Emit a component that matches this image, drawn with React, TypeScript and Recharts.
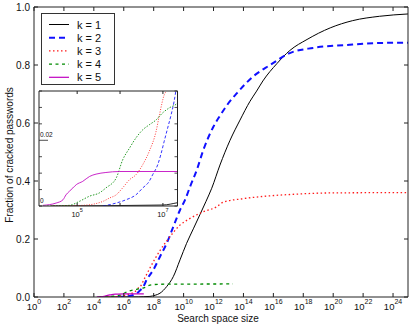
import { Line, LineChart, XAxis, YAxis } from "recharts"

// x values are log10(search space size)
const k1Exp = [4.4, 7.0, 7.34, 7.75, 8.1, 8.42, 8.87, 9.31, 9.76, 10.2, 10.65, 11.1, 11.5, 11.88, 12.43, 13.1, 13.77, 14.44, 14.88, 15.3, 16.24, 17.1, 18.25, 19.8, 21.3, 23.1, 25]
const k1Frac = [0, 0.0003, 0.001, 0.002, 0.006, 0.013, 0.036, 0.07, 0.128, 0.185, 0.235, 0.285, 0.33, 0.375, 0.455, 0.54, 0.61, 0.675, 0.71, 0.745, 0.805, 0.85, 0.888, 0.928, 0.953, 0.968, 0.976]

const k2Exp = [5.6, 5.91, 6.14, 6.37, 6.53, 6.68, 6.76, 6.88, 6.95, 7.03, 7.11, 7.19, 7.26, 7.3, 7.53, 7.97, 8.42, 8.87, 9.31, 9.76, 10.09, 10.43, 10.88, 11.32, 11.99, 12.43, 12.88, 13.6, 14.64, 15.78, 17.1, 18.65, 20.9, 23.1, 25]
const k2Frac = [0, 0.0009, 0.0019, 0.0034, 0.0055, 0.0075, 0.0095, 0.0126, 0.0156, 0.0197, 0.0237, 0.0277, 0.0318, 0.0349, 0.059, 0.093, 0.139, 0.185, 0.242, 0.3, 0.334, 0.38, 0.438, 0.507, 0.587, 0.625, 0.66, 0.705, 0.76, 0.8, 0.841, 0.859, 0.869, 0.876, 0.877]

const k3Exp = [4.4, 5.13, 5.6, 5.75, 5.91, 6.06, 6.22, 6.37, 6.53, 6.68, 6.84, 6.92, 7.03, 7.07, 7.4, 7.75, 8.42, 9.09, 9.76, 10.43, 11.32, 12.21, 12.65, 13.99, 15.55, 16.64, 19.99, 25]
const k3Frac = [0, 0.0002, 0.0014, 0.0024, 0.0034, 0.0055, 0.008, 0.0095, 0.0126, 0.0166, 0.0227, 0.0278, 0.0338, 0.0349, 0.065, 0.1, 0.16, 0.208, 0.248, 0.271, 0.294, 0.311, 0.327, 0.339, 0.348, 0.352, 0.359, 0.36]

const k4Exp = [4.3, 4.82, 5.05, 5.29, 5.52, 5.67, 5.91, 6.06, 6.22, 6.37, 6.53, 6.68, 6.84, 6.99, 7.14, 7.34, 7.75, 8.42, 13.3]
const k4Frac = [0, 0.0002, 0.0014, 0.003, 0.004, 0.0055, 0.0085, 0.014, 0.0176, 0.0207, 0.0232, 0.0247, 0.0262, 0.0283, 0.0298, 0.0313, 0.041, 0.044, 0.045]

const k5Exp = [4.2, 4.51, 4.67, 4.74, 4.82, 4.9, 4.98, 5.13, 5.29, 5.44, 5.67, 5.98, 7.34]
const k5Frac = [0.0002, 0.0009, 0.0019, 0.0034, 0.0045, 0.0055, 0.0065, 0.0075, 0.009, 0.0097, 0.0102, 0.0105, 0.0105]

const mainXTicks = [0, 2, 4, 6, 8, 10, 12, 14, 16, 18, 20, 22, 24]
const mainYTicks = [0, 0.2, 0.4, 0.6, 0.8, 1]
const insetXTicks = [5, 6, 7]
const insetXLabels = [5, 7]
const insetYTicks = [0, 0.005, 0.01, 0.015, 0.02, 0.025, 0.03, 0.035]
const insetYLabels = [0, 0.02]

const zip = (xs: number[], ys: number[]) => xs.map((x, i) => ({ x, y: ys[i] }))

const series = [
  { name: "k = 1", data: zip(k1Exp, k1Frac), color: "#000000", width: 1, dash: undefined, insetDash: undefined },
  { name: "k = 2", data: zip(k2Exp, k2Frac), color: "#1010ff", width: 2, dash: "6 4", insetDash: "3 2" },
  { name: "k = 3", data: zip(k3Exp, k3Frac), color: "#ff1a1a", width: 1.3, dash: "1.5 2.5", insetDash: "1 1.5" },
  { name: "k = 4", data: zip(k4Exp, k4Frac), color: "#008a00", width: 1.3, dash: "3 3.5", insetDash: "1.5 1.5" },
  { name: "k = 5", data: zip(k5Exp, k5Frac), color: "#c000c0", width: 1.2, dash: undefined, insetDash: undefined },
]

const AX = "#222"
const FONT = '"Liberation Sans", Arial, Helvetica, sans-serif'

// main plot box
const L = 34
const R = 408
const T = 7
const B = 297
// inset plot box
const IL = 39
const IR = 177.5
const IT = 91
const IB = 206

const BottomTick = ({ x, payload }: any) => (
  <g>
    <line x1={x} x2={x} y1={B} y2={B - 4} stroke={AX} />
    <text x={x} y={B + 13} textAnchor="middle" fontSize={9.5} fill="#111" fontFamily={FONT}>
      10<tspan dy={-6} fontSize={7}>{payload.value}</tspan>
    </text>
  </g>
)
const TopTick = ({ x }: any) => <line x1={x} x2={x} y1={T} y2={T + 4} stroke={AX} />
const LeftTick = ({ y, payload }: any) => (
  <g>
    <line x1={L} x2={L + 4} y1={y} y2={y} stroke={AX} />
    <text x={L - 4} y={y + 3.5} textAnchor="end" fontSize={10} fill="#111" fontFamily={FONT}>
      {payload.value.toFixed(1)}
    </text>
  </g>
)
const RightTick = ({ y }: any) => <line x1={R} x2={R - 4} y1={y} y2={y} stroke={AX} />

const InsetBottomTick = ({ x, payload }: any) => (
  <g>
    <line x1={x} x2={x} y1={IB} y2={IB - 3} stroke={AX} />
    {insetXLabels.includes(payload.value) && (
      <text x={x} y={IB + 11} textAnchor="middle" fontSize={7.5} fill="#111" fontFamily={FONT}>
        10<tspan dy={-5} fontSize={5.5}>{payload.value}</tspan>
      </text>
    )}
  </g>
)
const InsetTopTick = ({ x }: any) => <line x1={x} x2={x} y1={IT} y2={IT + 3} stroke={AX} />
const InsetLeftTick = ({ y, payload }: any) => {
  const lab = insetYLabels.includes(payload.value)
  return (
    <g>
      <line x1={IL} x2={IL + (payload.value === 0.02 ? 9 : 3)} y1={y} y2={y} stroke={AX} strokeWidth={0.8} />
      {lab && (
        <text x={IL + 1} y={y - 3} fontSize={6.5} fill="#111" fontFamily={FONT}>
          {payload.value === 0 ? "0" : "0.02"}
        </text>
      )}
    </g>
  )
}
const InsetRightTick = ({ y }: any) => <line x1={IR} x2={IR - 3} y1={y} y2={y} stroke={AX} strokeWidth={0.8} />

const LegendBox = () => (
  <div
    style={{
      position: "absolute",
      left: 41,
      top: 13,
      width: 72,
      height: 70,
      border: "1px solid #333",
      background: "#fff",
    }}>
    <svg width={72} height={70}>
      {series.map((s, i) => {
        const cy = 10.5 + i * 13.2
        return (
          <g key={s.name}>
            <line x1={7} x2={27} y1={cy} y2={cy} stroke={s.color} strokeWidth={s.width} strokeDasharray={s.dash} />
            <text x={35} y={cy + 4} fontSize={11} fill="#111" fontFamily={FONT}>
              {s.name}
            </text>
          </g>
        )
      })}
    </svg>
  </div>
)

const App = () => {
  return (
    <div style={{ position: "absolute", left: 0, top: 0, width: 415, height: 326, background: "#fff" }}>
      <div style={{ position: "absolute", left: 0, top: 0 }}>
        <LineChart width={415} height={326} margin={{ top: T - 1, right: 415 - R - 1, bottom: 326 - B - 1, left: 0 }}>
          <XAxis xAxisId={0} type="number" dataKey="x" domain={[0, 25]} ticks={mainXTicks} allowDataOverflow
            orientation="bottom" height={1} tickSize={0} tickMargin={0} tickLine={false} axisLine={{ stroke: AX }} tick={<BottomTick />} interval={0} />
          <XAxis xAxisId="top" type="number" dataKey="x" domain={[0, 25]} ticks={mainXTicks} allowDataOverflow
            orientation="top" height={1} tickSize={0} tickMargin={0} tickLine={false} axisLine={{ stroke: AX }} tick={<TopTick />} interval={0} />
          <YAxis yAxisId={0} type="number" domain={[0, 1]} ticks={mainYTicks} allowDataOverflow
            width={L} tickSize={0} tickMargin={0} tickLine={false} axisLine={{ stroke: AX }} tick={<LeftTick />} interval={0} />
          <YAxis yAxisId="right" type="number" domain={[0, 1]} ticks={mainYTicks} allowDataOverflow orientation="right"
            width={1} tickSize={0} tickMargin={0} tickLine={false} axisLine={{ stroke: AX }} tick={<RightTick />} interval={0} />
          {series.map((s) => (
            <Line key={s.name} data={s.data} dataKey="y" type="monotone" stroke={s.color} strokeWidth={s.width}
              strokeDasharray={s.dash} dot={false} isAnimationActive={false} />
          ))}
        </LineChart>
        <svg width={415} height={326} style={{ position: "absolute", left: 0, top: 0, pointerEvents: "none" }}>
          <text x={218} y={322} textAnchor="middle" fontSize={10} fill="#111" fontFamily={FONT}>
            Search space size
          </text>
          <text x={13} y={155} transform="rotate(-90 13 155)" textAnchor="middle" fontSize={10} fill="#111" fontFamily={FONT}>
            Fraction of cracked passwords
          </text>
        </svg>
      </div>
      <LegendBox />
      <div style={{ position: "absolute", left: IL, top: IT, width: IR - IL, height: IB - IT, background: "#fff" }} />
      <div style={{ position: "absolute", left: 0, top: 0 }}>
        <LineChart width={415} height={326} margin={{ top: IT - 1, right: 415 - IR - 1, bottom: 326 - IB - 1, left: IL - 1 }}>
          <XAxis xAxisId={0} type="number" dataKey="x" domain={[4.11, 7.34]} ticks={insetXTicks} allowDataOverflow
            height={1} tickSize={0} tickMargin={0} tickLine={false} axisLine={{ stroke: AX }} tick={<InsetBottomTick />} interval={0} />
          <XAxis xAxisId="top" type="number" dataKey="x" domain={[4.11, 7.34]} ticks={insetXTicks} allowDataOverflow
            orientation="top" height={1} tickSize={0} tickMargin={0} tickLine={false} axisLine={{ stroke: AX }} tick={<InsetTopTick />} interval={0} />
          <YAxis yAxisId={0} type="number" domain={[0, 0.035]} ticks={insetYTicks} allowDataOverflow
            width={1} tickSize={0} tickMargin={0} tickLine={false} axisLine={{ stroke: AX }} tick={<InsetLeftTick />} interval={0} />
          <YAxis yAxisId="right" type="number" domain={[0, 0.035]} ticks={insetYTicks} allowDataOverflow orientation="right"
            width={1} tickSize={0} tickMargin={0} tickLine={false} axisLine={{ stroke: AX }} tick={<InsetRightTick />} interval={0} />
          {series.map((s) => (
            <Line key={s.name} data={s.data} dataKey="y" type="monotone" stroke={s.color} strokeWidth={1}
              strokeOpacity={0.85} strokeDasharray={s.insetDash} dot={false} isAnimationActive={false} />
          ))}
        </LineChart>
      </div>
    </div>
  )
}

export default App
